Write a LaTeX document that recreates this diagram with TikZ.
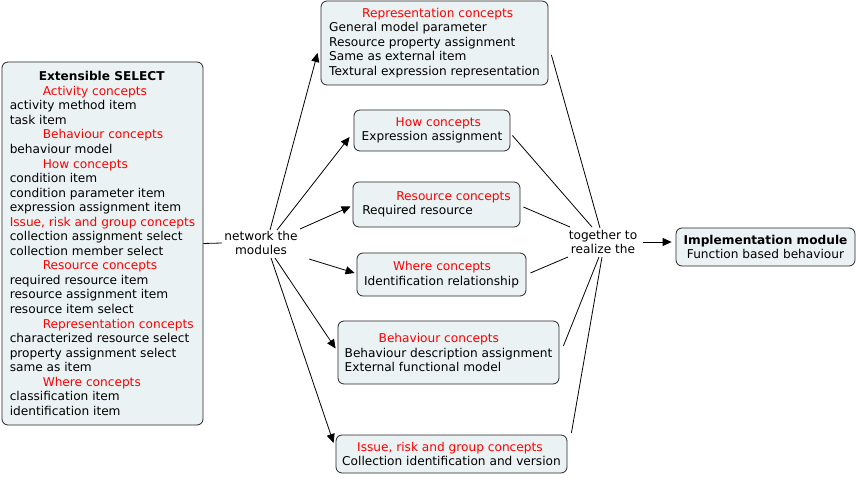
\documentclass[tikz,border=0pt]{standalone}
\usepackage{fontspec}
\setmainfont{DejaVu Sans}
\usetikzlibrary{arrows.meta}
\definecolor{boxfill}{HTML}{EBF2F3}
\newcommand{\hd}[2]{\hspace*{#1bp}\textcolor{red}{#2}}

\begin{document}
\begin{tikzpicture}
  [x=1bp,y=-1bp,line width=0.8bp,
   every node/.style={font=\fontsize{12.2}{14.6}\selectfont},
   box/.style={draw=black!85,fill=boxfill,rounded corners=6bp,align=left,inner sep=0pt},
   lbl/.style={align=center,inner sep=0pt},
   >={Triangle[length=9bp,width=8bp]}]
  \useasboundingbox (0,0) rectangle (856,478);

  \node[box,minimum width=201bp,minimum height=363bp](sel) at (102.5,243.5)
    {\hspace*{29bp}\textbf{Extensible SELECT}\\
     \hd{33}{Activity concepts}\\
     activity method item\\
     task item\\
     \hd{33}{Behaviour concepts}\\
     behaviour model\\
     \hd{33}{How concepts}\\
     condition item\\
     condition parameter item\\
     expression assignment item\\
     \hd{0}{Issue, risk and group concepts}\\
     collection assignment select\\
     collection member select\\
     \hd{33}{Resource concepts}\\
     required resource item\\
     resource assignment item\\
     resource item select\\
     \hd{33}{Representation concepts}\\
     characterized resource select\\
     property assignment select\\
     same as item\\
     \hd{33}{Where concepts}\\
     classification item\\
     identification item};

  \node[lbl](net) at (261,243){network the\\modules};

  \node[box,minimum width=227bp,minimum height=84bp](rep) at (434.5,43)
    {\hd{33}{Representation concepts}\\
     General model parameter\\
     Resource property assignment\\
     Same as external item\\
     Textural expression representation};
  \node[box,minimum width=156bp,minimum height=41bp](how) at (432,130.5)
    {\hd{34}{How concepts}\\
     Expression assignment};
  \node[box,minimum width=167bp,minimum height=45bp](res) at (436.5,204.5)
    {\hd{34}{Resource concepts}\\
     Required resource};
  \node[box,minimum width=169bp,minimum height=43bp](whr) at (441.5,274.5)
    {\hd{29}{Where concepts}\\
     Identification relationship};
  \node[box,minimum width=221bp,minimum height=63bp](beh) at (448.5,352.5)
    {\hd{34}{Behaviour concepts}\\
     Behaviour description assignment\\
     External functional model};
  \node[box,minimum width=231bp,minimum height=38bp](iss) at (451.5,454)
    {\hd{15}{Issue, risk and group concepts}\\
     Collection identification and version};

  \node[lbl](tog) at (603,242){together to\\realize the};

  \node[box,align=center,minimum width=179bp,minimum height=38bp](imp) at (765.5,247)
    {\textbf{Implementation module}\\
     Function based behaviour};

  \draw (sel.east) -- ([shift={(-39,0)}]net.center);

  \path[->] ([shift={(9,-13)}]net.center) edge ([shift={(-3,10)}]rep.west)
            ([shift={(16,-13)}]net.center) edge ([shift={(-4,6.5)}]how.west)
            ([shift={(39,-14)}]net.center) edge ([shift={(-2,2)}]res.west)
            ([shift={(48,16)}]net.center) edge ([shift={(-2,-1.5)}]whr.west)
            ([shift={(14,15)}]net.center) edge ([shift={(-2,-4)}]beh.west)
            ([shift={(10,15)}]net.center) edge ([shift={(-2,-11)}]iss.west);

  \path[-] ([shift={(3,12)}]rep.east) edge ([shift={(-3,-14)}]tog.center)
           ([shift={(2,5)}]how.east) edge ([shift={(-11,-15)}]tog.center)
           ([shift={(3,2.5)}]res.east) edge ([shift={(-33,-15)}]tog.center)
           ([shift={(4,-1.5)}]whr.east) edge ([shift={(-35,15)}]tog.center)
           ([shift={(4,-6.5)}]beh.east) edge ([shift={(-4,15)}]tog.center)
           ([shift={(4,-21)}]iss.east) edge ([shift={(-1,15)}]tog.center);

  \draw[->] ([shift={(40,0)}]tog.center) -- ([shift={(-4,-5)}]imp.west);
\end{tikzpicture}
\end{document}
